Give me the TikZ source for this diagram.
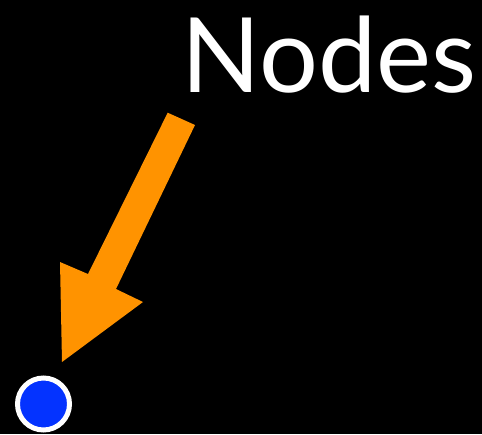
\documentclass[tikz,border=0pt]{standalone}
\usepackage{fontspec}
\setmainfont{Lato}
\definecolor{arrowor}{HTML}{FF9300}
\definecolor{nodeblue}{HTML}{0433FF}
\begin{document}
\begin{tikzpicture}[x=1pt,y=-1pt,
  dot/.style={circle,inner sep=0pt,minimum size=52pt,fill=nodeblue,draw=white,line width=5pt},
  title/.style={anchor=base west,inner sep=0pt,text=white,font=\fontsize{104}{110}\selectfont}]
\fill[black] (0,0) rectangle (482,434);
\useasboundingbox (0,0) rectangle (482,434);
\node[dot] (n) at (43.5,404) {};
\node[title] (t) at (181,92) {Nodes};
\coordinate (tip) at (62,362);
\fill[arrowor] (167.7,112.7) -- (195,125) -- (116,289) -- (143,302) -- (tip) -- (60,262) -- (88,274) -- cycle;
\end{tikzpicture}
\end{document}
